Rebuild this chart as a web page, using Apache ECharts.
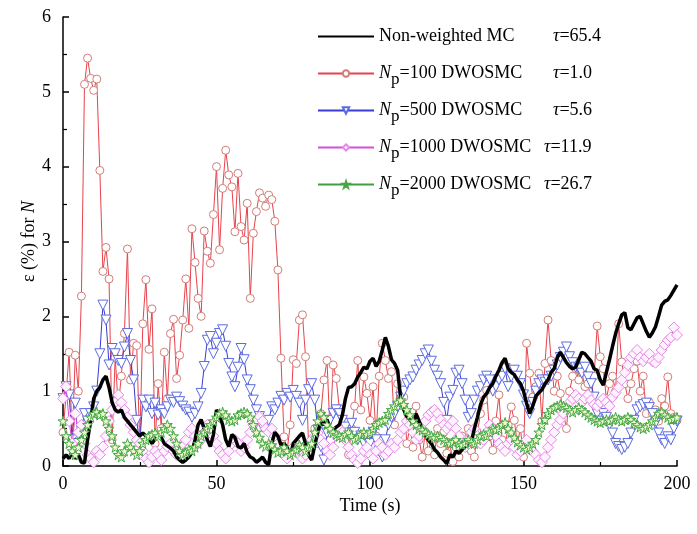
<!DOCTYPE html>
<html>
<head>
<meta charset="utf-8">
<script src="https://cdn.jsdelivr.net/npm/echarts@6/dist/echarts.min.js"></script>
<style>
  html, body { margin: 0; padding: 0; background: #fff; }
  #chart { width: 697px; height: 534px; }
</style>
</head>
<body>
<div id="chart"></div>
<script>
// Relative error of N (%) over time, one sample per second (0..200 s)
const timeStep = 1;

const seriesNames = ['Non-weighted MC', 'Np=100 DWOSMC', 'Np=500 DWOSMC', 'Np=1000 DWOSMC', 'Np=2000 DWOSMC'];
const particleCounts = [null, '100', '500', '1000', '2000'];
const tauLabels = ['65.4', '1.0', '5.6', '11.9', '26.7'];

const errMC = [
  0.1,0.15,0.1,0.2,0.1,0.15,0.05,0.04,0.35,0.6,
  0.9,1.0,1.05,1.15,1.2,1.05,0.85,0.75,0.72,0.75,
  0.65,0.6,0.55,0.5,0.45,0.4,0.44,0.4,0.37,0.3,
  0.36,0.42,0.38,0.3,0.27,0.24,0.2,0.12,0.08,0.05,
  0.08,0.12,0.18,0.35,0.55,0.62,0.5,0.35,0.26,0.42,
  0.75,0.68,0.55,0.35,0.26,0.42,0.38,0.26,0.24,0.3,
  0.18,0.12,0.1,0.05,0.08,0.12,0.05,0.02,0.3,0.45,
  0.4,0.28,0.3,0.25,0.12,0.3,0.35,0.4,0.44,0.3,
  0.15,0.08,0.28,0.45,0.6,0.55,0.62,0.5,0.48,0.52,
  0.55,0.68,0.9,1.05,1.06,1.1,1.19,1.25,1.32,1.3,
  1.4,1.44,1.33,1.4,1.55,1.72,1.6,1.42,1.37,1.28,
  0.9,0.75,0.66,0.62,0.57,0.7,0.6,0.5,0.42,0.35,
  0.3,0.22,0.18,0.12,0.08,0.03,0.15,0.12,0.2,0.17,
  0.22,0.26,0.3,0.32,0.5,0.65,0.82,0.92,0.97,1.05,
  1.1,1.2,1.28,1.38,1.44,1.3,1.25,1.22,1.15,1.1,
  1.0,0.84,0.7,0.8,0.93,0.98,1.02,1.1,1.15,1.25,
  1.3,1.45,1.52,1.45,1.38,1.33,1.3,1.32,1.42,1.52,
  1.5,1.45,1.4,1.3,1.28,1.15,1.08,1.25,1.42,1.6,
  1.77,1.9,2.02,2.05,1.85,1.82,1.9,1.98,2.0,1.9,
  1.8,1.72,1.78,1.86,2.0,2.15,2.2,2.22,2.28,2.35,
  2.42
];

const errNp100 = [
  0.45,0.95,1.52,0.35,1.48,1.0,2.27,5.1,5.45,5.18,
  5.02,5.17,3.95,2.6,2.92,2.5,0.35,1.45,0.8,1.2,
  1.77,2.9,1.15,1.64,1.61,0.3,1.9,2.49,1.56,2.1,
  0.3,1.1,0.5,1.52,0.9,1.77,1.96,1.17,1.48,1.95,
  2.5,1.84,3.17,2.72,2.24,2.0,3.14,2.87,2.71,3.36,
  4.0,2.89,3.71,4.22,3.89,3.73,3.13,3.91,3.2,3.02,
  3.51,2.24,3.11,3.4,3.65,3.58,3.47,3.62,3.56,3.27,
  2.62,1.44,0.39,0.2,0.55,1.42,1.37,1.95,2.02,1.46,
  0.26,0.35,0.5,0.3,0.7,1.15,1.41,0.44,1.35,1.17,
  0.77,0.4,0.35,0.15,0.5,0.8,1.41,0.75,1.19,0.97,
  0.61,1.06,0.4,1.2,1.64,1.41,1.17,1.26,0.55,1.1,
  1.01,0.92,0.3,0.52,0.25,0.8,0.35,0.12,0.45,0.2,
  0.35,0.15,0.5,0.3,0.45,0.17,0.3,0.06,0.25,0.12,
  0.4,0.3,0.5,0.2,0.12,0.45,0.7,0.88,1.01,0.4,
  0.21,0.6,0.95,0.35,0.21,0.55,0.79,0.61,0.3,0.5,
  0.12,1.64,1.24,0.92,1.06,1.24,0.6,1.37,1.95,1.41,
  1.0,1.2,0.97,0.7,0.5,1.0,1.2,1.3,1.15,1.25,
  1.06,1.1,0.9,1.2,1.87,1.46,1.3,0.9,1.1,1.2,
  1.0,1.9,1.39,1.1,0.9,1.1,1.3,1.4,1.0,1.2,
  0.7,0.85,0.7,0.75,0.6,0.9,0.8,1.19,0.7,0.65,
  0.61
];

const errNp500 = [
  0.9,1.06,0.95,0.35,0.84,0.3,0.5,0.7,0.6,0.7,
  0.79,1.0,1.5,2.15,1.95,1.35,1.57,1.5,1.41,1.37,
  1.59,1.77,1.41,1.15,0.61,0.3,0.88,0.79,0.88,0.7,
  0.84,0.68,0.75,0.7,0.79,0.88,0.85,0.92,0.86,0.8,
  0.75,0.72,0.65,0.7,0.79,0.97,1.33,1.68,1.73,1.5,
  1.64,1.77,1.82,1.6,1.37,1.19,1.06,1.32,1.57,1.42,
  1.15,1.02,0.88,0.75,0.66,0.52,0.55,0.61,0.79,0.75,
  0.84,0.93,0.88,0.97,0.92,1.01,0.93,0.84,0.61,0.88,
  1.02,1.1,0.88,0.48,0.26,0.08,0.44,0.61,0.7,0.75,
  0.7,0.61,0.52,0.44,0.57,0.45,0.35,0.4,0.3,0.35,
  0.3,0.45,0.35,0.2,0.12,0.35,0.55,0.65,0.7,0.79,
  0.92,1.0,1.1,1.15,1.19,1.28,1.35,1.41,1.5,1.55,
  1.4,1.28,1.2,1.1,0.85,0.61,0.92,1.01,1.24,1.28,
  1.1,0.88,0.65,0.7,0.88,1.0,1.06,1.15,1.2,1.15,
  1.0,1.06,1.15,1.2,1.3,1.06,1.19,1.28,1.2,1.1,
  0.95,0.8,0.7,0.85,1.0,1.1,1.15,1.12,1.15,1.2,
  1.28,1.35,1.45,1.52,1.59,1.46,1.38,1.32,1.3,1.24,
  1.32,1.19,1.1,0.92,0.7,0.6,0.7,0.65,0.55,0.44,
  0.3,0.26,0.22,0.25,0.3,0.44,0.61,0.75,0.79,0.82,
  0.84,0.78,0.7,0.57,0.44,0.35,0.3,0.39,0.35,0.5,
  0.6
];

const errNp1000 = [
  0.9,1.06,0.6,0.3,0.7,0.45,0.55,0.3,0.15,0.1,
  0.05,0.2,0.15,0.26,0.4,0.6,0.75,0.85,0.95,0.85,
  0.75,0.65,0.55,0.45,0.35,0.3,0.2,0.1,0.05,0.12,
  0.2,0.15,0.08,0.2,0.26,0.3,0.2,0.15,0.25,0.3,
  0.35,0.45,0.5,0.4,0.3,0.35,0.45,0.55,0.5,0.4,
  0.3,0.2,0.15,0.1,0.2,0.3,0.35,0.3,0.2,0.25,
  0.35,0.45,0.55,0.6,0.66,0.6,0.5,0.45,0.5,0.4,
  0.3,0.2,0.15,0.1,0.2,0.25,0.3,0.2,0.1,0.15,
  0.25,0.35,0.4,0.44,0.35,0.3,0.2,0.15,0.25,0.4,
  0.5,0.45,0.35,0.25,0.15,0.08,0.04,0.1,0.2,0.25,
  0.15,0.1,0.2,0.3,0.25,0.15,0.2,0.3,0.25,0.35,
  0.45,0.5,0.6,0.55,0.45,0.35,0.4,0.5,0.6,0.68,
  0.72,0.75,0.7,0.62,0.55,0.5,0.55,0.6,0.5,0.4,
  0.3,0.25,0.35,0.45,0.5,0.4,0.3,0.35,0.45,0.55,
  0.5,0.4,0.3,0.25,0.2,0.3,0.35,0.25,0.15,0.2,
  0.3,0.35,0.25,0.2,0.15,0.08,0.05,0.12,0.25,0.35,
  0.45,0.55,0.62,0.7,0.8,0.85,0.9,0.95,0.9,0.85,
  0.9,0.95,0.88,0.82,0.8,0.85,0.9,0.85,0.8,0.92,
  0.98,1.05,1.15,1.25,1.35,1.45,1.5,1.55,1.45,1.4,
  1.45,1.5,1.4,1.38,1.45,1.55,1.62,1.68,1.72,1.85,
  1.75
];

const errNp2000 = [
  0.6,0.4,0.3,0.2,0.15,0.25,0.35,0.45,0.55,0.65,
  0.7,0.72,0.68,0.7,0.6,0.5,0.4,0.25,0.15,0.12,
  0.2,0.3,0.25,0.2,0.15,0.2,0.3,0.35,0.4,0.42,
  0.44,0.4,0.45,0.5,0.55,0.5,0.4,0.3,0.2,0.15,
  0.18,0.22,0.2,0.25,0.3,0.4,0.45,0.5,0.55,0.6,
  0.65,0.7,0.72,0.68,0.62,0.6,0.62,0.68,0.7,0.72,
  0.7,0.65,0.55,0.45,0.38,0.3,0.26,0.3,0.28,0.22,
  0.18,0.2,0.25,0.2,0.15,0.18,0.22,0.28,0.25,0.2,
  0.25,0.3,0.45,0.6,0.7,0.65,0.55,0.5,0.45,0.42,
  0.4,0.38,0.42,0.45,0.4,0.35,0.38,0.42,0.45,0.42,
  0.45,0.5,0.55,0.58,0.6,0.62,0.7,0.75,0.8,0.85,
  0.88,0.82,0.75,0.68,0.6,0.55,0.5,0.48,0.45,0.42,
  0.4,0.38,0.4,0.38,0.35,0.32,0.3,0.32,0.35,0.3,
  0.28,0.3,0.35,0.32,0.3,0.35,0.4,0.42,0.4,0.45,
  0.5,0.48,0.5,0.55,0.58,0.5,0.45,0.38,0.32,0.28,
  0.25,0.22,0.25,0.3,0.35,0.45,0.55,0.62,0.7,0.75,
  0.78,0.8,0.82,0.8,0.78,0.75,0.72,0.75,0.78,0.75,
  0.72,0.68,0.65,0.62,0.6,0.58,0.6,0.62,0.6,0.62,
  0.65,0.62,0.6,0.62,0.65,0.62,0.58,0.55,0.52,0.5,
  0.52,0.55,0.6,0.65,0.7,0.72,0.68,0.65,0.62,0.63,
  0.65
];

const xTicks = { min: 0, max: 200, interval: 50 };
const yTicks = { min: 0, max: 6, interval: 1 };

const FONT = '"Liberation Serif", "Times New Roman", serif';
const STAR = 'path://M50,2 L61,36 L97,36 L68,57 L79,92 L50,70 L21,92 L32,57 L3,36 L39,36 Z';

function toPoints(values) {
  return values.map((v, i) => [i * timeStep, v]);
}

// Legend text: name, then a tau column; spacer widths come from measured text
const measureCtx = document.createElement('canvas').getContext('2d');
function textWidth(str, font) {
  measureCtx.font = font;
  return measureCtx.measureText(str).width;
}
const tauColumn = [174, 174, 174, 165, 165];
const spacerStyles = {};
const legendText = {};
seriesNames.forEach((name, k) => {
  let nameWidth, head;
  if (particleCounts[k] === null) {
    nameWidth = textWidth(name, '18px ' + FONT);
    head = '{t|' + name + '}';
  } else {
    const rest = '=' + particleCounts[k] + ' DWOSMC';
    nameWidth = textWidth('N', 'italic 18px ' + FONT) + textWidth('p', '17px ' + FONT) + textWidth(rest, '18px ' + FONT);
    head = '{i|N}{s|p}{t|' + rest + '}';
  }
  spacerStyles['sp' + k] = { width: Math.max(4, tauColumn[k] - nameWidth), lineHeight: 20 };
  legendText[name] = head + '{sp' + k + '| }{i|\u03c4}{t|=' + tauLabels[k] + '}{s| }';
});

const chart = echarts.init(document.getElementById('chart'), null, { renderer: 'canvas' });

const baseLine = {
  type: 'line',
  showSymbol: true,
  showAllSymbol: true,
  animation: false,
  emphasis: { disabled: true },
  silent: true
};

const option = {
  backgroundColor: '#ffffff',
  animation: false,
  grid: { left: 63, right: 20, top: 17, bottom: 68 },
  legend: {
    orient: 'vertical',
    left: 312,
    top: 17,
    itemWidth: 56,
    itemHeight: 8,
    itemGap: 8,
    selectedMode: false,
    data: [
      { name: seriesNames[0], itemStyle: { color: 'rgba(0,0,0,0)', borderColor: 'rgba(0,0,0,0)', borderWidth: 0 } },
      seriesNames[1], seriesNames[2], seriesNames[3], seriesNames[4]
    ],
    formatter: name => legendText[name],
    textStyle: {
      fontFamily: FONT,
      fontSize: 18,
      color: '#000',
      rich: Object.assign({
        t: { fontFamily: FONT, fontSize: 18, color: '#000', lineHeight: 20 },
        i: { fontFamily: FONT, fontSize: 18, color: '#000', fontStyle: 'italic', lineHeight: 20 },
        s: { fontFamily: FONT, fontSize: 17, color: '#000', lineHeight: 18, padding: [12, 0, 0, 0] }
      }, spacerStyles)
    }
  },
  xAxis: {
    type: 'value',
    min: xTicks.min,
    max: xTicks.max,
    interval: xTicks.interval,
    name: 'Time (s)',
    nameLocation: 'middle',
    nameGap: 31,
    nameMoveOverlap: false,
    nameTextStyle: { fontFamily: FONT, fontSize: 18, color: '#000' },
    axisLine: { show: true, onZero: false, lineStyle: { color: '#000', width: 1.5 } },
    axisTick: { show: true, inside: true, length: 6, lineStyle: { color: '#000', width: 1.5 } },
    minorTick: { show: true, splitNumber: 2, length: 4, lineStyle: { color: '#000', width: 1.2 } },
    axisLabel: { fontFamily: FONT, fontSize: 18, color: '#000', margin: 9 },
    splitLine: { show: false }
  },
  yAxis: {
    type: 'value',
    min: yTicks.min,
    max: yTicks.max,
    interval: yTicks.interval,
    name: '{t|\u03b5 (%) for }{i|N}',
    nameLocation: 'middle',
    nameGap: 25,
    nameMoveOverlap: false,
    nameRotate: 90,
    nameTextStyle: {
      fontFamily: FONT, fontSize: 18, color: '#000',
      rich: {
        t: { fontFamily: FONT, fontSize: 18, color: '#000' },
        i: { fontFamily: FONT, fontSize: 18, color: '#000', fontStyle: 'italic' }
      }
    },
    axisLine: { show: true, onZero: false, lineStyle: { color: '#000', width: 1.5 } },
    axisTick: { show: true, inside: true, length: 6, lineStyle: { color: '#000', width: 1.5 } },
    minorTick: { show: true, splitNumber: 2, length: 4, lineStyle: { color: '#000', width: 1.2 } },
    axisLabel: { fontFamily: FONT, fontSize: 18, color: '#000', margin: 12 },
    splitLine: { show: false }
  },
  series: [
    Object.assign({}, baseLine, {
      name: seriesNames[1],
      z: 2,
      data: toPoints(errNp100),
      symbol: 'circle',
      symbolSize: 8,
      lineStyle: { color: '#e8434c', width: 1 },
      itemStyle: { color: '#ffffff', borderColor: '#d27d78', borderWidth: 1 }
    }),
    Object.assign({}, baseLine, {
      name: seriesNames[2],
      z: 3,
      data: toPoints(errNp500),
      symbol: 'triangle',
      symbolRotate: 180,
      symbolSize: 10,
      lineStyle: { color: '#3a3ad4', width: 1 },
      itemStyle: { color: '#ffffff', borderColor: '#5c6ce0', borderWidth: 1 }
    }),
    Object.assign({}, baseLine, {
      name: seriesNames[3],
      z: 4,
      data: toPoints(errNp1000),
      symbol: 'diamond',
      symbolSize: 11,
      lineStyle: { color: '#d64fd6', width: 1 },
      itemStyle: { color: '#fdf2fd', borderColor: '#e48ae6', borderWidth: 1 }
    }),
    Object.assign({}, baseLine, {
      name: seriesNames[0],
      z: 5,
      data: toPoints(errMC),
      symbol: 'none',
      showSymbol: false,
      lineStyle: { color: '#000000', width: 3.5 },
      itemStyle: { color: '#000000' }
    }),
    Object.assign({}, baseLine, {
      name: seriesNames[4],
      z: 6,
      data: toPoints(errNp2000),
      symbol: STAR,
      symbolSize: 10,
      lineStyle: { color: '#3f9f3f', width: 1 },
      itemStyle: { color: '#eef8cc', borderColor: '#44a644', borderWidth: 1 }
    })
  ]
};

chart.setOption(option);
</script>
</body>
</html>
